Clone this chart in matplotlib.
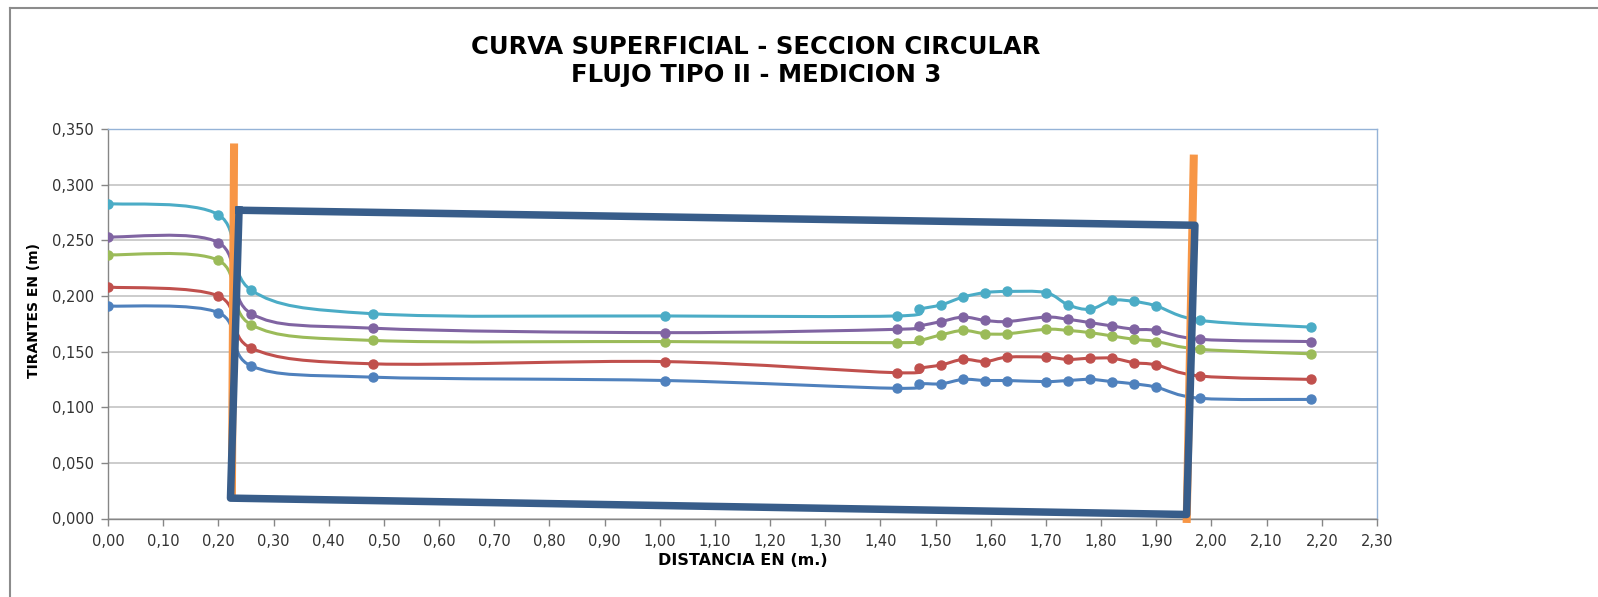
import numpy as np
import matplotlib
matplotlib.use("Agg")
import matplotlib.pyplot as plt
from matplotlib.path import Path
from matplotlib.patches import PathPatch
from matplotlib.ticker import FuncFormatter, MultipleLocator
from matplotlib.lines import Line2D

plt.rcParams['font.family'] = ['DejaVu Sans']

# ---------------- data ----------------
distancia = [0.00, 0.20, 0.26, 0.48, 1.01, 1.43, 1.47, 1.51, 1.55, 1.59,
             1.63, 1.70, 1.74, 1.78, 1.82, 1.86, 1.90, 1.98, 2.18]

serie_1 = [0.191, 0.185, 0.137, 0.127, 0.124, 0.117, 0.121, 0.121, 0.125, 0.124,
           0.124, 0.123, 0.124, 0.125, 0.123, 0.121, 0.118, 0.108, 0.107]
serie_2 = [0.208, 0.200, 0.153, 0.139, 0.141, 0.131, 0.135, 0.138, 0.143, 0.141,
           0.145, 0.145, 0.143, 0.144, 0.144, 0.140, 0.138, 0.128, 0.125]
serie_3 = [0.237, 0.232, 0.174, 0.160, 0.159, 0.158, 0.160, 0.165, 0.169, 0.166,
           0.166, 0.170, 0.169, 0.167, 0.164, 0.161, 0.159, 0.152, 0.148]
serie_4 = [0.253, 0.248, 0.184, 0.171, 0.167, 0.170, 0.173, 0.177, 0.181, 0.178,
           0.177, 0.181, 0.179, 0.176, 0.173, 0.170, 0.169, 0.161, 0.159]
serie_5 = [0.283, 0.273, 0.205, 0.184, 0.182, 0.182, 0.188, 0.192, 0.199, 0.203,
           0.204, 0.203, 0.192, 0.188, 0.196, 0.195, 0.191, 0.178, 0.172]

series = [serie_1, serie_2, serie_3, serie_4, serie_5]
colors = ['#4F81BD', '#C0504D', '#9BBB59', '#8064A2', '#4BACC6']

# compuertas (orange gate bars): bottom point -> top point
compuerta_izq_x = [0.2245, 0.2285]
compuerta_izq_y = [0.020, 0.337]
compuerta_der_x = [1.955, 1.968]
compuerta_der_y = [-0.004, 0.327]

# tubo (dark blue quadrilateral), corners: TL, TR, BR, BL
tubo_x = [0.2375, 1.970, 1.955, 0.222]
tubo_y = [0.277, 0.2635, 0.0036, 0.0183]

title = "CURVA SUPERFICIAL - SECCION CIRCULAR\nFLUJO TIPO II - MEDICION 3"
xlabel = "DISTANCIA EN (m.)"
ylabel = "TIRANTES EN (m)"


def smooth_path(xs, ys):
    pts = np.column_stack([xs, ys]).astype(float)
    n = len(pts)
    verts = [pts[0]]
    codes = [Path.MOVETO]
    for i in range(n - 1):
        p0 = pts[i - 1] if i > 0 else pts[i]
        p1 = pts[i]
        p2 = pts[i + 1]
        p3 = pts[i + 2] if i + 2 < n else pts[i + 1]
        c1 = p1 + (p2 - p0) / 6.0
        c2 = p2 - (p3 - p1) / 6.0
        verts += [c1, c2, p2]
        codes += [Path.CURVE4] * 3
    return Path(verts, codes)


fig = plt.figure(figsize=(15.98, 5.97), dpi=100)
ax = fig.add_axes([108 / 1598, 1 - 518.5 / 597, (1377 - 108) / 1598, (518.5 - 129) / 597])

ax.set_xlim(0, 2.30)
ax.set_ylim(0, 0.35)

for ys, c in zip(series, colors):
    patch = PathPatch(smooth_path(distancia, ys), facecolor='none', edgecolor=c,
                      lw=2.2, zorder=3)
    ax.add_patch(patch)
    ax.plot(distancia, ys, linestyle='none', marker='o', markersize=6.5,
            color=c, zorder=4)

for gx, gy in [(compuerta_izq_x, compuerta_izq_y), (compuerta_der_x, compuerta_der_y)]:
    ax.plot(gx, gy, color='#F79646', lw=5.8, solid_capstyle='butt', zorder=5,
            clip_on=False)

ax.plot(tubo_x + [tubo_x[0]], tubo_y + [tubo_y[0]], color='#385D8A', lw=5.4,
        solid_joinstyle='round', zorder=6)

# axes styling
ax.xaxis.set_major_locator(MultipleLocator(0.10))
ax.yaxis.set_major_locator(MultipleLocator(0.05))
ax.xaxis.set_major_formatter(FuncFormatter(lambda v, p: f"{v:.2f}".replace('.', ',')))
ax.yaxis.set_major_formatter(FuncFormatter(lambda v, p: f"{v:.3f}".replace('.', ',')))
ax.tick_params(axis='both', direction='out', length=5, width=1, color='#868686',
               labelsize=10.5, labelcolor='#333333')
ax.tick_params(axis='x', pad=6)
ax.tick_params(axis='y', pad=5)

ax.grid(axis='y', color='#BFBFBF', lw=1.1, zorder=0)
ax.set_axisbelow(True)
for s in ['left', 'bottom']:
    ax.spines[s].set_color('#868686')
    ax.spines[s].set_linewidth(1)
for s in ['top', 'right']:
    ax.spines[s].set_color('#95B3D7')
    ax.spines[s].set_linewidth(1)

ax.set_xlabel(xlabel, fontsize=11.5, fontweight='bold', labelpad=3)
ax.set_ylabel(ylabel, fontsize=10, fontweight='bold')
ax.yaxis.set_label_coords(-0.053, 0.535)

fig.text(756 / 1598, 1 - 61 / 597, title, ha='center', va='center',
         fontsize=17.5, fontweight='bold', linespacing=1.2)

# chart area border (left and top)
fig.add_artist(Line2D([10 / 1598, 10 / 1598], [0, 1 - 8 / 597], transform=fig.transFigure,
                      color='#8C8C8C', lw=1.5))
fig.add_artist(Line2D([10 / 1598, 1], [1 - 8 / 597, 1 - 8 / 597], transform=fig.transFigure,
                      color='#8C8C8C', lw=1.5))

fig.savefig('out.png', dpi=100)
